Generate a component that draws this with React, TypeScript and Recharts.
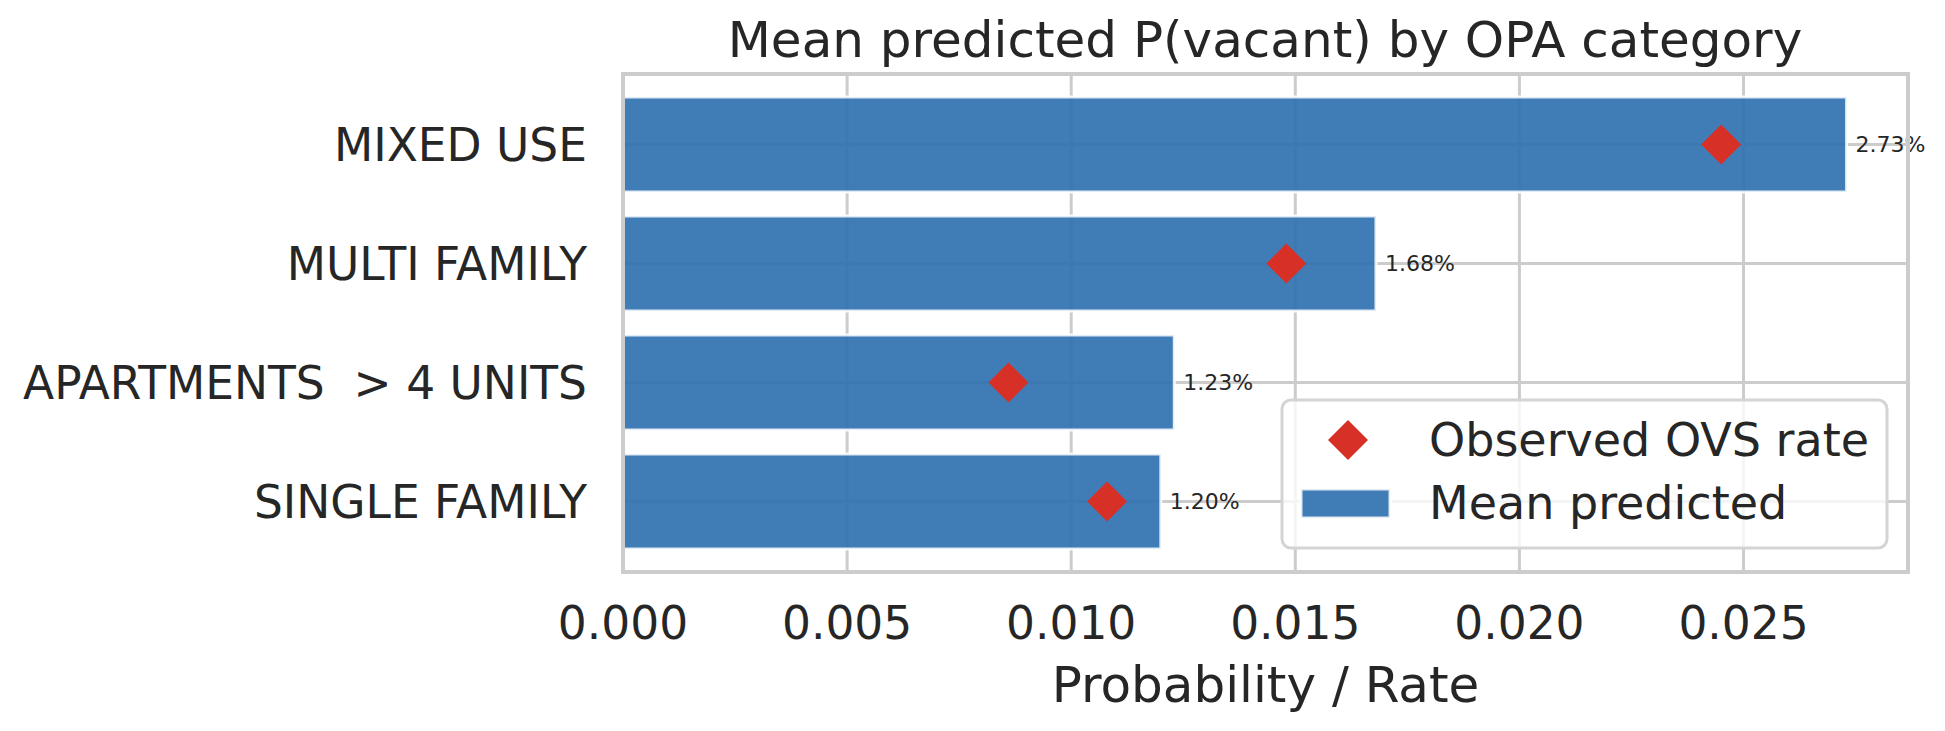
import React from "react";
import {
  ComposedChart,
  Bar,
  Scatter,
  XAxis,
  YAxis,
  CartesianGrid,
  LabelList,
} from "recharts";

const categories = ["MIXED USE", "MULTI FAMILY", "APARTMENTS  > 4 UNITS", "SINGLE FAMILY"];
const meanPredicted = [0.0273, 0.0168, 0.0123, 0.012];
const observedRate = [0.0245, 0.0148, 0.0086, 0.0108];
const xTicks = [0, 0.005, 0.01, 0.015, 0.02, 0.025];

const data = categories.map((c, i) => ({
  category: c,
  predicted: meanPredicted[i],
  observed: observedRate[i],
}));

const FONT = "'DejaVu Sans', sans-serif";
const TEXT = "#262626";
const GRID = "#cccccc";
const BAR = "#3072b1";
const RED = "#d73027";
const X_MAX = 0.02867;

// plot box
const PLOT = { left: 623, top: 74, right: 1908, bottom: 572 };

const Diamond = (props: any) => {
  const { cx, cy } = props;
  const r = 20;
  return (
    <polygon
      points={`${cx},${cy - r} ${cx + r},${cy} ${cx},${cy + r} ${cx - r},${cy}`}
      fill={RED}
    />
  );
};

// category names keep their double spaces, so draw the text directly
const CategoryTick = (props: any) => {
  const { x, y, payload } = props;
  return (
    <text
      x={x}
      y={y}
      dy="0.355em"
      textAnchor="end"
      fontSize={45.5}
      fill={TEXT}
      fontFamily={FONT}
      style={{ whiteSpace: "pre" }}
    >
      {payload.value}
    </text>
  );
};

export default function App() {
  return (
    <div style={{ position: "absolute", left: 0, top: 0, width: 1945, height: 731, fontFamily: FONT }}>
      <ComposedChart
        width={1945}
        height={731}
        data={data}
        layout="vertical"
        margin={{ top: PLOT.top, right: 1945 - PLOT.right, bottom: 0, left: 0 }}
        barCategoryGap="10%"
      >
        <CartesianGrid stroke={GRID} strokeWidth={3} />
        <XAxis
          type="number"
          domain={[0, X_MAX]}
          ticks={xTicks}
          allowDataOverflow
          tickFormatter={(v: number) => v.toFixed(3)}
          tick={{ fontSize: 45.5, fill: TEXT, fontFamily: FONT }}
          tickLine={false}
          tickSize={0}
          tickMargin={35}
          axisLine={false}
          height={731 - PLOT.bottom}
          label={{
            value: "Probability / Rate",
            position: "insideBottom",
            offset: 29,
            fontSize: 50,
            fill: TEXT,
            fontFamily: FONT,
          }}
        />
        <YAxis
          type="category"
          dataKey="category"
          width={PLOT.left}
          padding={{ top: 11, bottom: 11 }}
          tick={<CategoryTick />}
          tickLine={false}
          tickSize={0}
          tickMargin={36}
          axisLine={false}
        />
        <Bar
          dataKey="predicted"
          fill={BAR}
          fillOpacity={0.92}
          stroke="#ffffff"
          strokeOpacity={0.85}
          strokeWidth={3}
          isAnimationActive={false}
        >
          <LabelList
            dataKey="predicted"
            position="right"
            offset={9}
            formatter={(v: any) => `${(Number(v) * 100).toFixed(2)}%`}
            style={{ fontSize: 22, fill: TEXT, fontFamily: FONT }}
          />
        </Bar>
        <Scatter dataKey="observed" shape={Diamond} isAnimationActive={false} />
      </ComposedChart>

      <svg
        width={1945}
        height={731}
        style={{ position: "absolute", left: 0, top: 0, pointerEvents: "none" }}
      >
        <rect
          x={PLOT.left}
          y={PLOT.top}
          width={PLOT.right - PLOT.left}
          height={PLOT.bottom - PLOT.top}
          fill="none"
          stroke={GRID}
          strokeWidth={4}
        />
        <text x={1265} y={57} textAnchor="middle" fontSize={50} fill={TEXT} fontFamily={FONT}>
          Mean predicted P(vacant) by OPA category
        </text>
        <rect
          x={1282}
          y={400}
          width={605}
          height={148}
          rx={9}
          fill="#ffffff"
          fillOpacity={0.8}
          stroke="#d4d4d4"
          strokeWidth={3}
        />
        <polygon points="1348,420 1368,440 1348,460 1328,440" fill={RED} />
        <text x={1429} y={440} dy="0.355em" fontSize={46} fill={TEXT} fontFamily={FONT}>
          Observed OVS rate
        </text>
        <rect
          x={1301}
          y={489}
          width={89}
          height={29}
          fill={BAR}
          fillOpacity={0.92}
          stroke="#ffffff"
          strokeOpacity={0.85}
          strokeWidth={3}
        />
        <text x={1429} y={503} dy="0.355em" fontSize={46} fill={TEXT} fontFamily={FONT}>
          Mean predicted
        </text>
      </svg>
    </div>
  );
}
